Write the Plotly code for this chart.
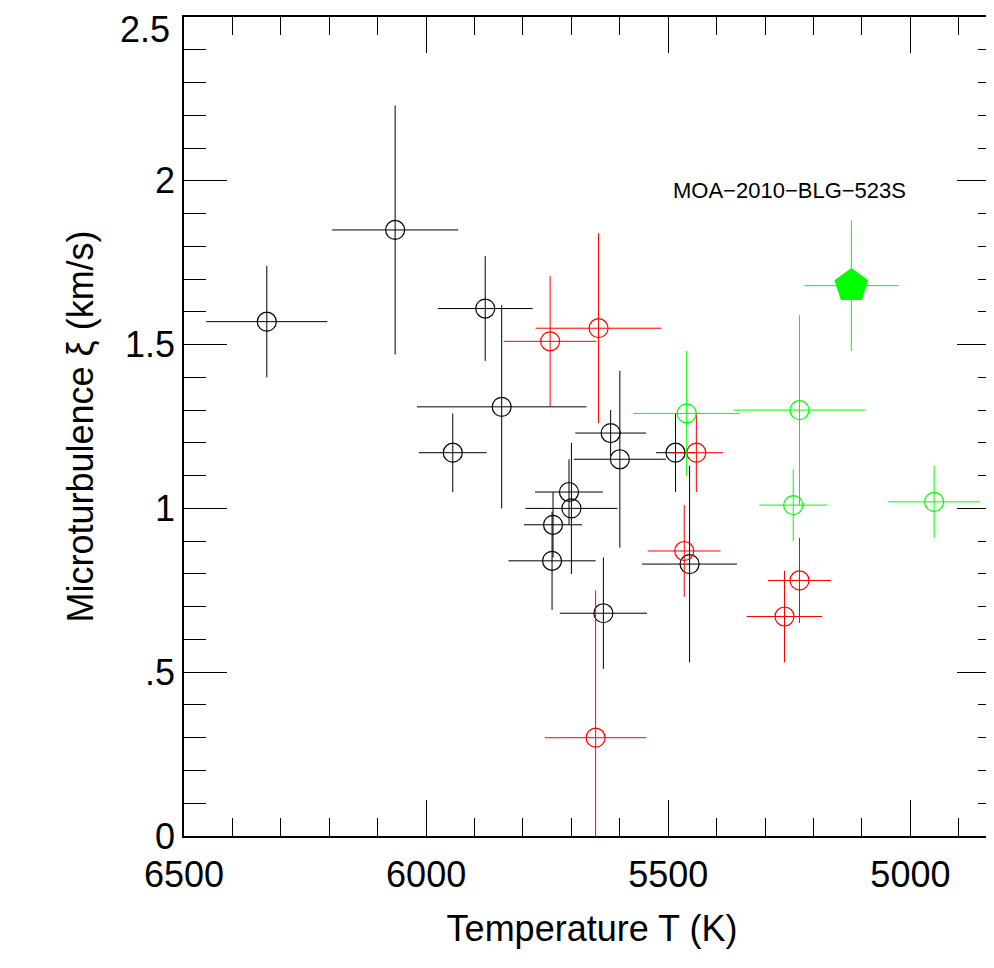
import plotly.graph_objects as go

black_T = [6329, 6064, 5878, 5844, 5945, 5619, 5600, 5485, 5705, 5700, 5738, 5740, 5634, 5456]
black_v = [1.57, 1.85, 1.61, 1.31, 1.17, 1.23, 1.15, 1.17, 1.05, 1.00, 0.95, 0.84, 0.68, 0.83]
black_dT = [125, 130, 98, 175, 70, 73, 95, 40, 70, 95, 60, 90, 90, 98]
black_dv = [0.17, 0.38, 0.16, 0.31, 0.12, 0.07, 0.27, 0.12, 0.10, 0.20, 0.10, 0.15, 0.17, 0.30]

red_T = [5744, 5644, 5442, 5467, 5229, 5260, 5650]
red_v = [1.51, 1.55, 1.17, 0.87, 0.78, 0.67, 0.30]
red_dT = [96, 130, 55, 75, 65, 78, 105]
red_dv = [0.20, 0.29, 0.12, 0.14, 0.13, 0.14, 0.45]

green_T = [5462, 5229, 5242, 4951]
green_v = [1.29, 1.30, 1.01, 1.02]
green_dT = [110, 136, 70, 95]
green_dv = [0.19, 0.29, 0.11, 0.11]

moa_T = [5122]
moa_v = [1.68]
moa_dT = [97]
moa_dv = [0.20]

y_ticks = [0, 0.5, 1, 1.5, 2]
y_labels = ["0", ".5", "1", "1.5", "2"]
y_top = 2.5

fig = go.Figure()


def add(T, v, dT, dv, color, symbol="circle-open", size=19):
    fig.add_trace(go.Scatter(
        x=T, y=v, mode="markers",
        marker=dict(symbol=symbol, size=size, color=color, line=dict(width=1.2, color=color)),
        error_x=dict(type="data", array=dT, color=color, thickness=1, width=0),
        error_y=dict(type="data", array=dv, color=color, thickness=1, width=0),
        showlegend=False,
    ))


add(black_T, black_v, black_dT, black_dv, "black")
add(red_T, red_v, red_dT, red_dv, "red")
add(green_T, green_v, green_dT, green_dv, "#00ff00")
add(moa_T, moa_v, moa_dT, moa_dv, "#00ff00", symbol="pentagon", size=34)

fig.add_annotation(x=5250, y=1.97, text="MOA\u22122010\u2212BLG\u2212523S", showarrow=False,
                   font=dict(size=22, color="black"))
# top tick label would be clipped by the tiny top margin, so place it by hand
fig.add_annotation(x=0, xref="paper", y=y_top, yref="y", text="2.5", showarrow=False,
                   xanchor="right", yanchor="top", xshift=-12, yshift=10,
                   font=dict(size=36, color="black"))

axis_common = dict(
    showgrid=False, zeroline=False, mirror="allticks", ticks="inside",
    showline=True, linecolor="black", linewidth=1.5, tickcolor="black",
    tickfont=dict(size=36, color="black"), title_font=dict(size=36, color="black"),
)

fig.update_xaxes(
    range=[6500, 4815], tickvals=[6500, 6000, 5500, 5000], ticklen=36,
    minor=dict(dtick=100, ticklen=18, ticks="inside", tickcolor="black"),
    title_text="Temperature T (K)", title_standoff=22, ticklabelstandoff=6, **axis_common,
)
fig.update_yaxes(
    range=[0, y_top], tickvals=y_ticks + [y_top], ticktext=y_labels + [""], ticklen=43,
    minor=dict(dtick=0.1, ticklen=22, ticks="inside", tickcolor="black"),
    title_text="Microturbulence \u03be (km/s)", title_standoff=20, **axis_common,
)

fig.update_layout(
    width=994, height=968, plot_bgcolor="white", paper_bgcolor="white",
    margin=dict(l=176, r=0, t=9, b=140),
    font=dict(family="Liberation Sans, Arial, sans-serif", color="black"),
)

fig.write_html("out.html")
